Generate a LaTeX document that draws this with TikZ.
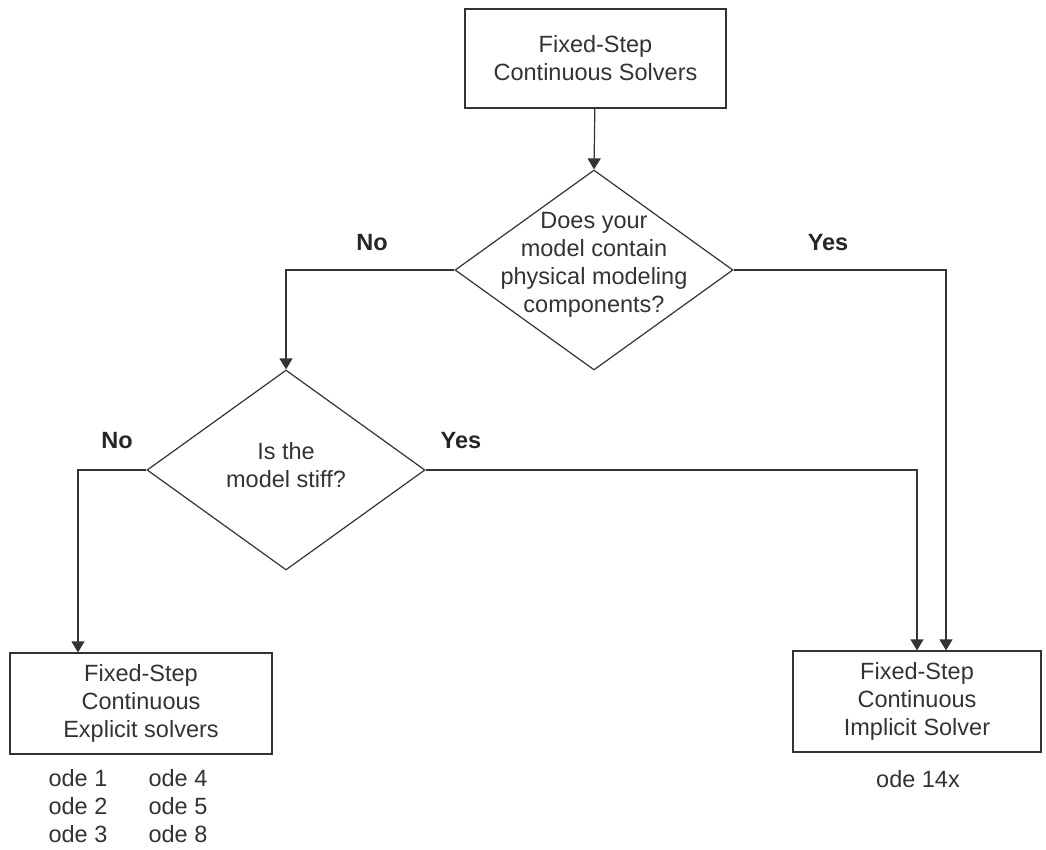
\documentclass[tikz,border=0pt]{standalone}
\usepackage{fontspec}
\setmainfont{Liberation Sans}
\usetikzlibrary{arrows.meta,calc,shapes.geometric}
\newcommand{\textmare}{\fontsize{23.5}{28}\selectfont}
\tikzset{
  bloc/.style     = {draw=black!80, line width=1.2pt, align=center, inner sep=0pt,
                     text=black!80, font=\textmare},
  decizie/.style  = {draw=black!80, diamond, line width=1.2pt, inner sep=0pt,
                     minimum width=278pt, minimum height=200pt},
  intrebare/.style= {align=center, text=black!80, font=\textmare},
  eticheta/.style = {font=\textmare\bfseries, text=black!85, inner sep=2pt},
  lista/.style    = {align=left, text=black!80, font=\textmare},
  sageata/.style  = {-{Triangle[length=11pt,width=13pt]}, line width=1.2pt, draw=black!80}
}

\begin{document}
\begin{tikzpicture}[x=1pt,y=-1pt]
        \useasboundingbox (0,0) rectangle (1046,849);

        \node[bloc, minimum width=261pt, minimum height=99pt] (start) at (595.5,58.5)
            {Fixed-Step\\ Continuous Solvers};
        \node[decizie] (fizic) at (594,270) {};
        \node[intrebare] (fizictxt) at (594,265)
            {Does your\\ model contain\\ physical modeling\\ components?};
        \node[decizie] (rigid) at (286,470) {};
        \node[intrebare] (rigidtxt) at (286,465) {Is the\\ model stiff?};
        \node[bloc, minimum width=262pt, minimum height=101pt] (explicit) at (141,703.5)
            {Fixed-Step\\ Continuous\\ Explicit solvers};
        \node[bloc, minimum width=248pt, minimum height=101pt] (implicit) at (917,701.5)
            {Fixed-Step\\ Continuous\\ Implicit Solver};

        \node[lista] (ode1) at (78,806) {ode 1\\ ode 2\\ ode 3};
        \node[lista] (ode2) at (178,806) {ode 4\\ ode 5\\ ode 8};
        \node[lista] (ode3) at (918,779) {ode 14x};

        \node[eticheta] (nu1) at (372,243) {No};
        \node[eticheta] (da1) at (828,243) {Yes};
        \node[eticheta] (nu2) at (117,441) {No};
        \node[eticheta] (da2) at (461,441) {Yes};

        \draw[sageata] (start) -- (fizic.north);
        \draw[sageata] (fizic.west) -| (rigid.north);
        \draw[sageata] (fizic.east) -| ($(implicit.north)+(29,0)$);
        \draw[sageata] (rigid.west) -| ($(explicit.north)+(-63,0)$);
        \draw[sageata] (rigid.east) -| (implicit.north);
    \end{tikzpicture}
\end{document}
